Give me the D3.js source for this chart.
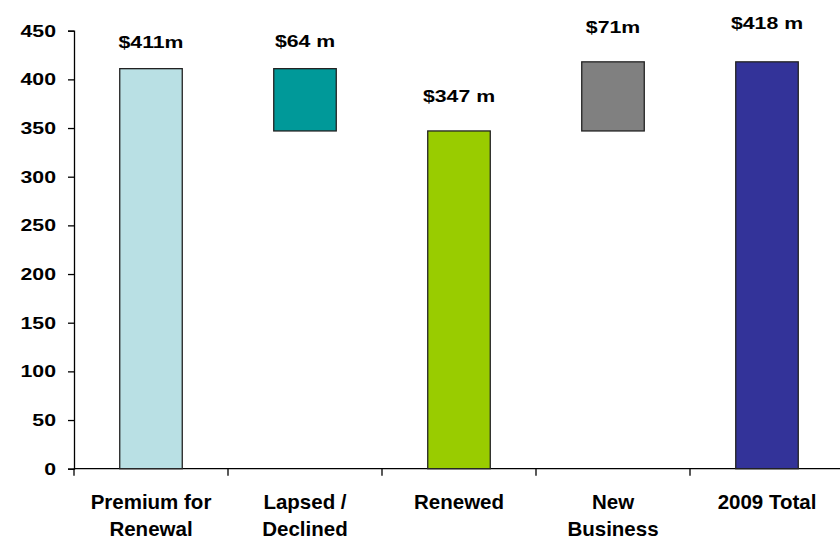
<!DOCTYPE html>
<html>
<head>
<meta charset="utf-8">
<script src="https://cdn.jsdelivr.net/npm/d3@7"></script>
<style>
  body { margin: 0; background: #fff; }
  svg { display: block; }
  text { font-family: "Liberation Sans", Arial, sans-serif; font-weight: bold; fill: #000; }
</style>
</head>
<body>
<svg id="chart" width="840" height="539"></svg>
<script>
// Renewal waterfall, $ millions
const categories = [["Premium for", "Renewal"], ["Lapsed /", "Declined"], ["Renewed"], ["New", "Business"], ["2009 Total"]];
const barBase = [0, 347, 0, 347, 0];
const barTop = [411, 411, 347, 418, 418];
const valueLabels = ["$411m", "$64 m", "$347 m", "$71m", "$418 m"];
const barColors = ["#b9e0e4", "#009999", "#99cc00", "#808080", "#333399"];
const yTicks = [0, 50, 100, 150, 200, 250, 300, 350, 400, 450];

// gap between bar top and its value label (px)
const labelGap = [21, 22, 29, 29, 33];

const FONT = "Liberation Sans, Arial, sans-serif";
const WIDE = 1.25; // horizontal stretch of the numeric labels
const svg = d3.select("#chart");
const x0 = 74, x1 = 844, yBottom = 468.7, yTopPx = 30.7;

const x = d3.scaleBand().domain(d3.range(categories.length)).range([x0, x1]).paddingInner(0.594).paddingOuter(0.297);
const y = d3.scaleLinear().domain([0, 450]).range([yBottom, yTopPx]);

// y axis
const yAxis = d3.axisLeft(y).tickValues(yTicks).tickSize(6).tickPadding(12);
const gy = svg.append("g").attr("transform", `translate(${x0},0)`).call(yAxis);
gy.select(".domain").attr("stroke", "#000").attr("stroke-width", 1.3);
gy.selectAll(".tick line").attr("stroke", "#000").attr("stroke-width", 1.3);
gy.selectAll(".tick text")
  .attr("font-size", 17).attr("font-family", FONT).attr("font-weight", "bold").attr("fill", "#000")
  .attr("x", -18 / WIDE)
  .attr("transform", `scale(${WIDE},1)`);

// x axis baseline with ticks at category boundaries
const step = x.step();
svg.append("line").attr("x1", x0).attr("x2", x1).attr("y1", yBottom).attr("y2", yBottom).attr("stroke", "#000").attr("stroke-width", 1.3);
svg.append("g").selectAll("line").data(d3.range(categories.length + 1)).join("line")
  .attr("x1", i => x0 + i * step).attr("x2", i => x0 + i * step)
  .attr("y1", yBottom).attr("y2", yBottom + 7)
  .attr("stroke", "#000").attr("stroke-width", 1.3);

// bars
svg.append("g").selectAll("rect").data(d3.range(categories.length)).join("rect")
  .attr("x", i => x(i))
  .attr("width", x.bandwidth())
  .attr("y", i => y(barTop[i]))
  .attr("height", i => y(barBase[i]) - y(barTop[i]))
  .attr("fill", i => barColors[i])
  .attr("stroke", "#222")
  .attr("stroke-width", 1.3);

// value labels
svg.append("g").selectAll("text").data(d3.range(categories.length)).join("text")
  .attr("transform", i => `translate(${x(i) + x.bandwidth() / 2},${y(barTop[i]) - labelGap[i]}) scale(${WIDE},1)`)
  .attr("text-anchor", "middle")
  .attr("font-size", 17)
  .text(i => valueLabels[i]);

// category labels
const cat = svg.append("g").selectAll("text").data(d3.range(categories.length)).join("text")
  .attr("x", i => x(i) + x.bandwidth() / 2)
  .attr("y", 509)
  .attr("text-anchor", "middle")
  .attr("font-size", 20.5);
cat.selectAll("tspan").data(i => categories[i].map(t => ({ t, i }))).join("tspan")
  .attr("x", d => x(d.i) + x.bandwidth() / 2)
  .attr("dy", (d, k) => k === 0 ? 0 : 27)
  .text(d => d.t);
</script>
</body>
</html>
